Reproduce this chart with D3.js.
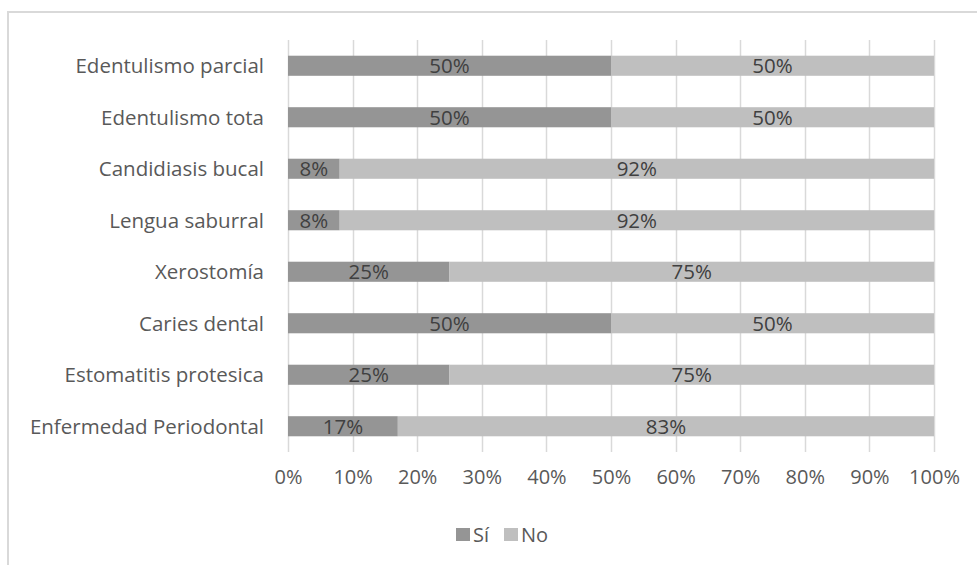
<!DOCTYPE html>
<html>
<head>
<meta charset="utf-8">
<script src="https://cdn.jsdelivr.net/npm/d3@7"></script>
<style>
  body { margin: 0; background: #fff; }
  text { font-family: "Open Sans", "Noto Sans", sans-serif; }
</style>
</head>
<body>
<svg id="chart" width="977" height="565"></svg>
<script>
// Oral conditions, share of "Sí" vs "No"
const categories = [
  "Edentulismo parcial",
  "Edentulismo tota",
  "Candidiasis bucal",
  "Lengua saburral",
  "Xerostomía",
  "Caries dental",
  "Estomatitis protesica",
  "Enfermedad Periodontal"
];
const siValues = [50, 50, 8, 8, 25, 50, 25, 17];
const noValues = [50, 50, 92, 92, 75, 50, 75, 83];
const seriesNames = ["Sí", "No"];
const seriesColors = ["#959595", "#bfbfbf"];
const tickValues = [0, 10, 20, 30, 40, 50, 60, 70, 80, 90, 100];

const svg = d3.select("#chart");
const W = 977, H = 565;
const FONT = '"Open Sans", "Noto Sans", sans-serif';

// chart frame
svg.append("rect")
  .attr("x", 8).attr("y", 12)
  .attr("width", W + 10).attr("height", H + 10)
  .attr("fill", "none").attr("stroke", "#d9d9d9").attr("stroke-width", 2);

const x = d3.scaleLinear().domain([0, 100]).range([288, 934]);
const y = d3.scaleBand().domain(categories).range([40, 452]).paddingInner(0.61).paddingOuter(0.305);

// vertical gridlines
svg.append("g").selectAll("line").data(tickValues).join("line")
  .attr("x1", d => Math.round(x(d)) + 0.5).attr("x2", d => Math.round(x(d)) + 0.5)
  .attr("y1", 40).attr("y2", 452)
  .attr("stroke", "#d9d9d9").attr("stroke-width", 1.5);

// stacked data
const rows = categories.map((c, i) => ({ cat: c, Sí: siValues[i], No: noValues[i] }));
const stack = d3.stack().keys(seriesNames)(rows);

const layers = svg.append("g").selectAll("g").data(stack).join("g")
  .attr("fill", (d, i) => seriesColors[i]);

layers.selectAll("rect").data(d => d).join("rect")
  .attr("x", d => x(d[0]))
  .attr("width", d => x(d[1]) - x(d[0]))
  .attr("y", d => y(d.data.cat))
  .attr("height", y.bandwidth());

// value labels
layers.selectAll("text").data(d => d).join("text")
  .attr("x", d => (x(d[0]) + x(d[1])) / 2)
  .attr("y", d => y(d.data.cat) + y.bandwidth() / 2)
  .attr("dy", "0.36em")
  .attr("text-anchor", "middle")
  .attr("fill", "#404040")
  .attr("font-size", 20.5)
  .text(d => (d[1] - d[0]) + "%");

// category axis
const yAxis = d3.axisLeft(y).tickSize(0).tickPadding(0);
const gy = svg.append("g").attr("transform", "translate(264,0)").call(yAxis);
gy.select(".domain").remove();
gy.selectAll("text").attr("fill", "#595959").attr("font-size", 20.5)
  .attr("dy", "0.36em")
  .style("font-family", FONT);

// percentage axis
const xAxis = d3.axisBottom(x).tickValues(tickValues).tickFormat(d => d + "%").tickSize(0).tickPadding(0);
const gx = svg.append("g").attr("transform", "translate(0,470)").call(xAxis);
gx.select(".domain").remove();
gx.selectAll("text").attr("fill", "#595959").attr("font-size", 20)
  .style("font-family", FONT);

// legend
const legend = svg.append("g").attr("transform", "translate(456,528)");
const legendX = [0, 48];
seriesNames.forEach((name, i) => {
  const g = legend.append("g").attr("transform", `translate(${legendX[i]},0)`);
  g.append("rect").attr("width", 14).attr("height", 13).attr("fill", seriesColors[i]);
  g.append("text").attr("x", 17).attr("y", 6.5).attr("dy", "0.36em")
    .attr("fill", "#595959").attr("font-size", 20).text(name);
});
</script>
</body>
</html>
